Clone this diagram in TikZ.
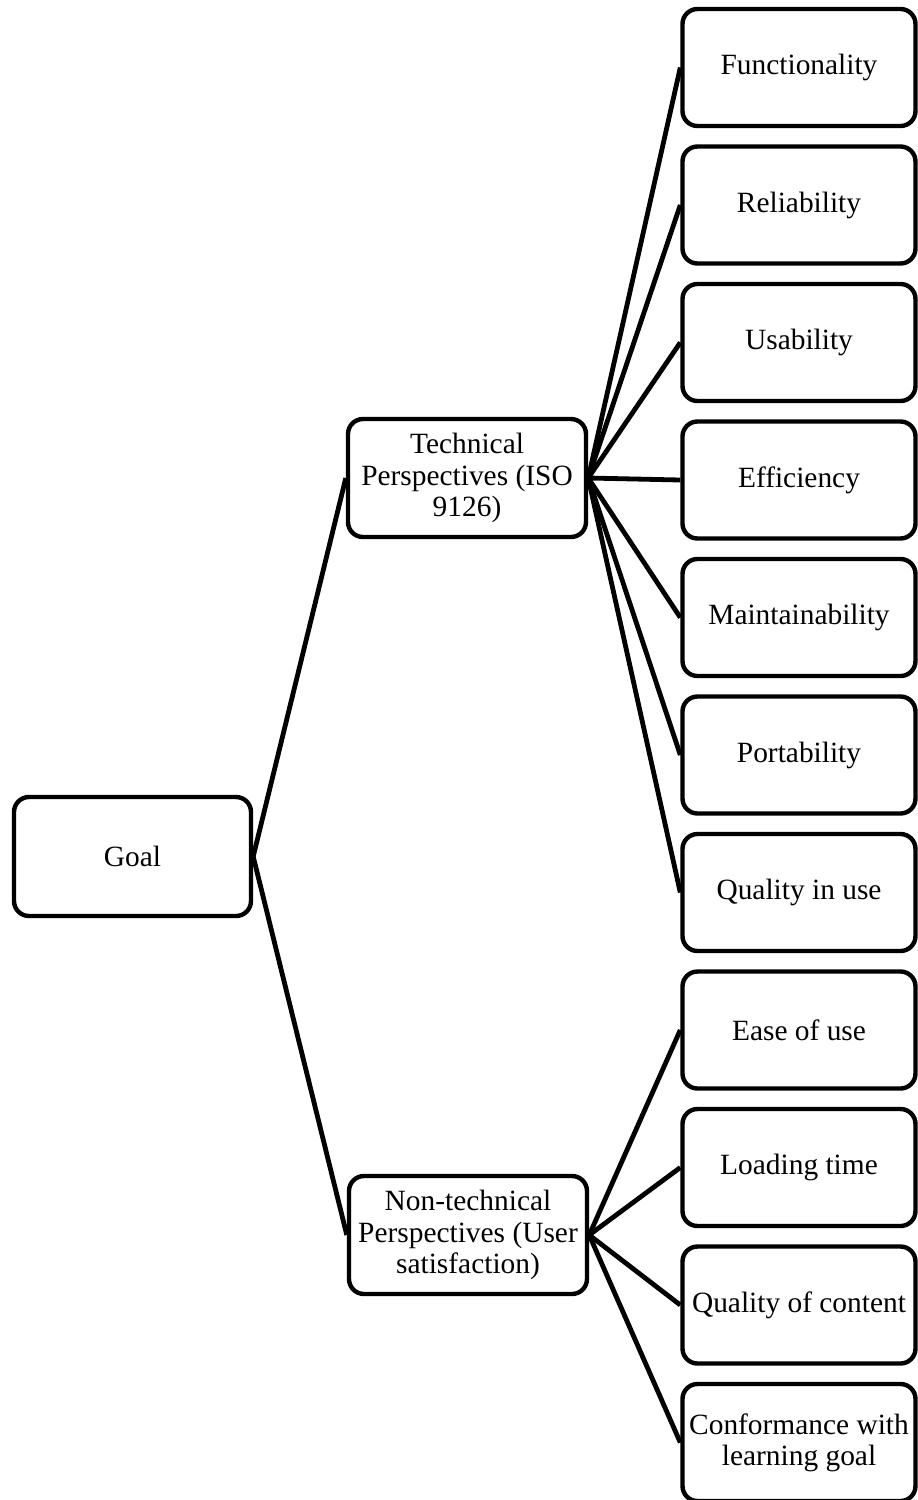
\documentclass[tikz,border=0pt]{standalone}
\usepackage{fontspec}
\setmainfont{Liberation Serif}
\begin{document}
\begin{tikzpicture}[x=0.5pt,y=-0.5pt,
  box/.style={draw=black, line width=2.2pt, rounded corners=7.5pt, fill=white, align=center, inner sep=2pt,
    font=\fontsize{14.7pt}{15.6pt}\selectfont},
  leaf/.style={box, minimum width=116.5pt, minimum height=58.5pt},
  mid/.style={box, minimum width=119pt, minimum height=59pt},
  link/.style={line width=2.4pt}]
\useasboundingbox (0,0) rectangle (917,1500);
\node[box, minimum width=118.5pt, minimum height=59.5pt] (goal) at (132.5,856.5) {Goal};
\node[mid] (tech) at (467,478) {Technical\\Perspectives (ISO\\9126)};
\node[mid] (nontech) at (468,1235) {Non-technical\\Perspectives (User\\satisfaction)};
\node[leaf] (l1) at (799,67.5) {Functionality};
\node[leaf] (l2) at (799,205) {Reliability};
\node[leaf] (l3) at (799,342.5) {Usability};
\node[leaf] (l4) at (799,480) {Efficiency};
\node[leaf] (l5) at (799,617.5) {Maintainability};
\node[leaf] (l6) at (799,755) {Portability};
\node[leaf] (l7) at (799,892.5) {Quality in use};
\node[leaf] (l8) at (799,1030) {Ease of use};
\node[leaf] (l9) at (799,1167.5) {Loading time};
\node[leaf] (l10) at (799,1305) {Quality of content};
\node[leaf] (l11) at (799,1442.5) {Conformance with\\learning goal};
\draw[link] (goal.east) -- (tech.west);
\draw[link] (goal.east) -- (nontech.west);
\foreach \i in {1,...,7} {\draw[link] (tech.east) -- (l\i.west);}
\foreach \i in {8,...,11} {\draw[link] (nontech.east) -- (l\i.west);}
\end{tikzpicture}
\end{document}
